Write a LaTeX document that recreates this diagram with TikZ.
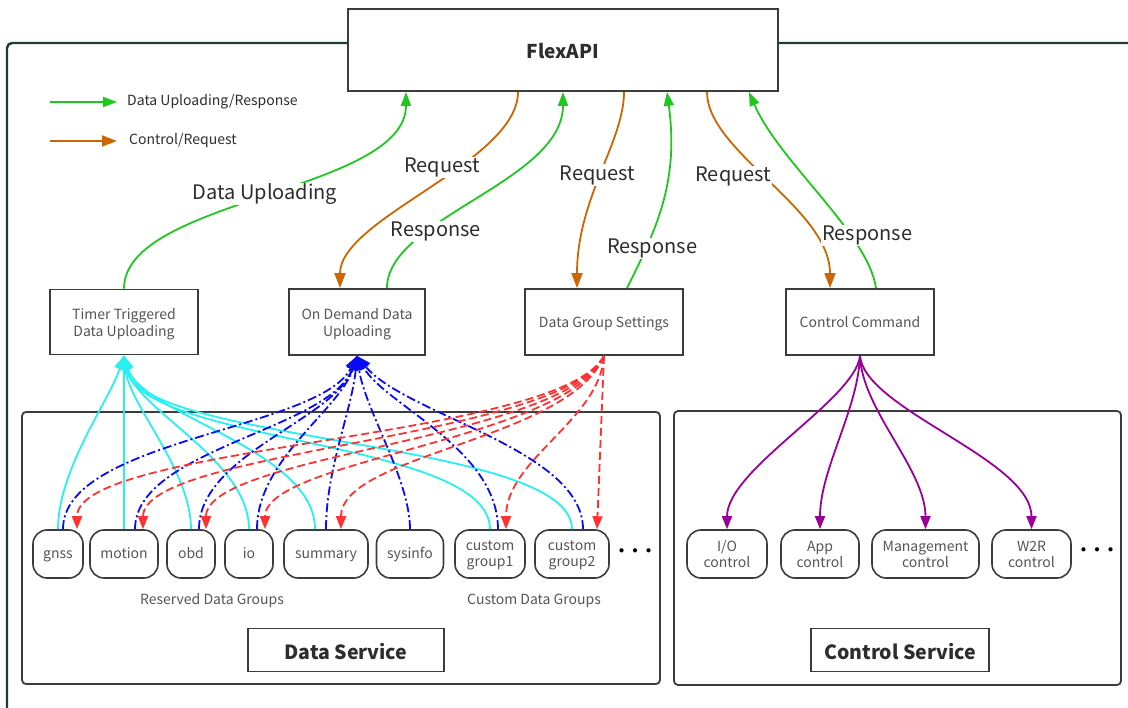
\documentclass[tikz,border=0pt]{standalone}
\usepackage{fontspec}
\setmainfont{Noto Sans CJK SC}
\usetikzlibrary{arrows.meta}
\usetikzlibrary{calc}

\definecolor{framegreen}{RGB}{29,61,45}
\definecolor{boxgray}{RGB}{60,60,60}
\definecolor{labelgray}{RGB}{85,85,85}
\definecolor{textdark}{RGB}{45,45,45}
\definecolor{upgreen}{RGB}{30,200,30}
\definecolor{reqorange}{RGB}{204,102,0}
\definecolor{timercyan}{RGB}{40,240,240}
\definecolor{demandblue}{RGB}{10,10,245}
\definecolor{groupred}{RGB}{255,50,50}
\definecolor{ctrlpurple}{RGB}{153,0,153}

\tikzset{
  apibox/.style={draw=boxgray, line width=1.8pt, fill=white, inner sep=0pt, align=center,
    text depth=0pt, text=labelgray, font=\fontsize{14}{17}\selectfont},
  pill/.style={draw=boxgray, line width=1.6pt, rounded corners=14pt, minimum height=48pt,
    inner sep=0pt, align=center, text depth=0pt, text=labelgray, font=\fontsize{14}{16}\selectfont},
  servicebox/.style={draw=boxgray, line width=1.8pt, inner sep=0pt, minimum height=43pt,
    text height=18pt, text depth=0pt, text=textdark, font=\bfseries\fontsize{19.5}{24}\selectfont},
  grouplbl/.style={inner sep=0pt, text=labelgray, font=\fontsize{14}{17}\selectfont},
  flowlbl/.style={fill=white, inner sep=1pt, text=textdark, font=\fontsize{20}{22}\selectfont},
  upflow/.style={color=upgreen, line width=1.8pt, -{Triangle[length=14pt,width=10pt]}},
  reqflow/.style={color=reqorange, line width=1.8pt, -{Triangle[length=15pt,width=11pt]}},
  timerflow/.style={color=timercyan, line width=1.8pt, -{Triangle[length=14pt,width=11pt]}},
  demandflow/.style={color=demandblue, line width=1.8pt, dash pattern=on 9pt off 3pt on 2pt off 3pt,
    -{Triangle[length=14pt,width=11pt]}},
  groupflow/.style={color=groupred, line width=1.8pt, dash pattern=on 8pt off 4pt,
    -{Triangle[length=13pt,width=10pt]}},
  ctrlflow/.style={color=ctrlpurple, line width=1.8pt, -{Triangle[length=13pt,width=10pt]}},
}

\begin{document}
\begin{tikzpicture}[x=1pt, y=-1pt]
    \useasboundingbox (0,0) rectangle (1128,708);
    \clip (0,0) rectangle (1128,708);
    % outer frame
    \draw [framegreen, line width=2.4pt, rounded corners=5pt] (7,43) rectangle (1150,730);
    % FlexAPI
    \node [apibox, minimum width=430pt, minimum height=82pt, text=textdark, text height=18pt,
        font=\bfseries\fontsize{19}{24}\selectfont] (flexapi) at (563,50) {FlexAPI};
    % legend
    \node [grouplbl, text=textdark, anchor=west] (legup) at (127,102) {Data Uploading/Response};
    \node [grouplbl, text=textdark, anchor=west] (legreq) at (129,141) {Control/Request};
    \draw [upflow] ([xshift=-77pt]legup.west) -- ([xshift=-10pt]legup.west);
    \draw [reqflow] ([xshift=-79pt]legreq.west) -- ([xshift=-12pt]legreq.west);

    % API groups
    \node [apibox, minimum width=148pt, minimum height=65pt] (timer) at (124,322) {Timer Triggered\\Data Uploading};
    \node [apibox, minimum width=136pt, minimum height=66pt] (ondemand) at (357,322) {On Demand Data\\Uploading};
    \node [apibox, minimum width=158pt, minimum height=66pt, text height=11pt] (groupset) at (604,322) {Data Group Settings};
    \node [apibox, minimum width=148pt, minimum height=66pt, text height=11pt] (ctrlcmd) at (860,322) {Control Command};

    % requests and responses
    \draw [upflow] (timer.north) .. controls +(0,-90) and +(0,100) .. ([xshift=-157pt]flexapi.south)
        node [flowlbl, pos=0.5] {Data Uploading};
    \draw [reqflow] ([xshift=-45pt]flexapi.south) .. controls +(0,70) and +(0,-70) .. ([xshift=-17pt]ondemand.north)
        node [flowlbl, pos=0.42, xshift=-8pt, yshift=7pt] {Request};
    \draw [upflow] ([xshift=30pt]ondemand.north) .. controls +(0,-70) and +(0,90) .. (flexapi.south)
        node [flowlbl, pos=0.3, xshift=11pt] {Response};
    \draw [reqflow] ([xshift=61pt]flexapi.south) .. controls +(0,50) and +(0,-90) .. ([xshift=-27pt]groupset.north)
        node [flowlbl, pos=0.5, xshift=-3pt] {Request};
    \draw [upflow] ([xshift=23pt]groupset.north) .. controls +(30,-60) and +(12,90) .. ([xshift=104pt]flexapi.south)
        node [flowlbl, pos=0.23, xshift=6pt] {Response};
    \draw [reqflow] ([xshift=144pt]flexapi.south) .. controls +(0,60) and +(0,-80) .. ([xshift=-30pt]ctrlcmd.north)
        node [flowlbl, pos=0.4, xshift=-17pt, yshift=-13pt] {Request};
    \draw [upflow] ([xshift=16pt]ctrlcmd.north) .. controls +(-8,-55) and +(30,70) .. ([xshift=186pt]flexapi.south)
        node [flowlbl, pos=0.28, xshift=14pt, yshift=3pt] {Response};

    % data service
    \draw [boxgray, line width=1.8pt, rounded corners=4pt] (22,412) rectangle (660,684);
    \node [servicebox, minimum width=196pt] (datasvc) at (346,650) {Data Service};
    \node [pill, minimum width=50pt, text height=9pt] (gnss) at (58,554) {gnss};
    \node [pill, minimum width=68pt, text height=9pt] (motion) at (124,554) {motion};
    \node [pill, minimum width=48pt, text height=9pt] (obd) at (191,554) {obd};
    \node [pill, minimum width=48pt, text height=9pt] (io) at (249,554) {io};
    \node [pill, minimum width=84pt, text height=9pt] (summary) at (326,554) {summary};
    \node [pill, minimum width=67pt, text height=9pt] (sysinfo) at (410,554) {sysinfo};
    \node [pill, minimum width=70pt] (cgroupa) at (490,554) {custom\\group1};
    \node [pill, minimum width=74pt] (cgroupb) at (572,554) {custom\\group2};
    \node [grouplbl, text=black, font=\bfseries\fontsize{15}{17}\selectfont] (datadots) at (635,553) {•\kern-1.5pt•\kern-1.5pt•};
    \node [grouplbl] (reserved) at (212,601) {Reserved Data Groups};
    \node [grouplbl] (custom) at (534,601) {Custom Data Groups};

    % timer triggered
    \draw [timerflow] (gnss.north) .. controls +(0,-60) and +(-14,44) .. (timer.south);
    \draw [timerflow] (motion.north) -- (timer.south);
    \draw [timerflow] (obd.north) .. controls +(0,-60) and +(5,50) .. (timer.south);
    \draw [timerflow] (io.north) .. controls +(0,-70) and +(12,55) .. (timer.south);
    \draw [timerflow] ([xshift=-11pt]summary.north) .. controls +(0,-80) and +(18,60) .. (timer.south);
    \draw [timerflow] (cgroupa.north) .. controls +(0,-90) and +(16,89) .. (timer.south);
    \draw [timerflow] (cgroupb.north) .. controls +(0,-90) and +(16,89) .. (timer.south);

    % on demand
    \draw [demandflow] ([xshift=5pt]gnss.north) .. controls +(0,-90) and +(-37,74) .. (ondemand.south);
    \draw [demandflow] ([xshift=11pt]motion.north) .. controls +(0,-80) and +(-27,74) .. (ondemand.south);
    \draw [demandflow] ([xshift=8pt]obd.north) .. controls +(0,-75) and +(-22,64) .. (ondemand.south);
    \draw [demandflow] ([xshift=8pt]io.north) .. controls +(0,-70) and +(-17,54) .. (ondemand.south);
    \draw [demandflow] (summary.north) .. controls +(0,-60) and +(-5,54) .. (ondemand.south);
    \draw [demandflow] (sysinfo.north) .. controls +(0,-50) and +(8,54) .. (ondemand.south);
    \draw [demandflow] ([xshift=8pt]cgroupa.north) .. controls +(0,-80) and +(28,49) .. (ondemand.south);
    \draw [demandflow] ([xshift=11pt]cgroupb.north) .. controls +(0,-80) and +(48,59) .. (ondemand.south);

    % group settings
    \draw [groupflow] (groupset.south) .. controls +(-44,84) and +(0,-85) .. ([xshift=19pt]gnss.north);
    \draw [groupflow] (groupset.south) .. controls +(-44,84) and +(0,-80) .. ([xshift=19pt]motion.north);
    \draw [groupflow] (groupset.south) .. controls +(-40,84) and +(0,-75) .. ([xshift=15pt]obd.north);
    \draw [groupflow] (groupset.south) .. controls +(-36,84) and +(0,-70) .. ([xshift=16pt]io.north);
    \draw [groupflow] (groupset.south) .. controls +(-34,84) and +(0,-75) .. ([xshift=15pt]summary.north);
    \draw [groupflow] (groupset.south) .. controls +(-4,64) and +(0,-70) .. ([xshift=16pt]cgroupa.north);
    \draw [groupflow] (groupset.south) -- ([xshift=25pt]cgroupb.north);

    % control service
    \draw [boxgray, line width=1.8pt, rounded corners=4pt] (674,411) rectangle (1121,685);
    \node [servicebox, minimum width=178pt] (ctrlsvc) at (900,650) {Control Service};
    \node [pill, minimum width=80pt] (ioctrl) at (727,554) {I/O\\control};
    \node [pill, minimum width=78pt] (appctrl) at (820,554) {App\\control};
    \node [pill, minimum width=107pt] (mgmtctrl) at (925.5,554) {Management\\control};
    \node [pill, minimum width=79pt] (wtrctrl) at (1031.5,554) {W2R\\control};
    \node [grouplbl, text=black, font=\bfseries\fontsize{15}{17}\selectfont] (ctrldots) at (1097,552) {•\kern-1.5pt•\kern-1.5pt•};
    \draw [ctrlflow] (ctrlcmd.south) .. controls +(-5,44) and +(0,-60) .. (ioctrl.north);
    \draw [ctrlflow] (ctrlcmd.south) .. controls +(-2,54) and +(0,-60) .. (appctrl.north);
    \draw [ctrlflow] (ctrlcmd.south) .. controls +(2,54) and +(0,-60) .. (mgmtctrl.north);
    \draw [ctrlflow] (ctrlcmd.south) .. controls +(5,54) and +(0,-70) .. (wtrctrl.north);
\end{tikzpicture}
\end{document}
